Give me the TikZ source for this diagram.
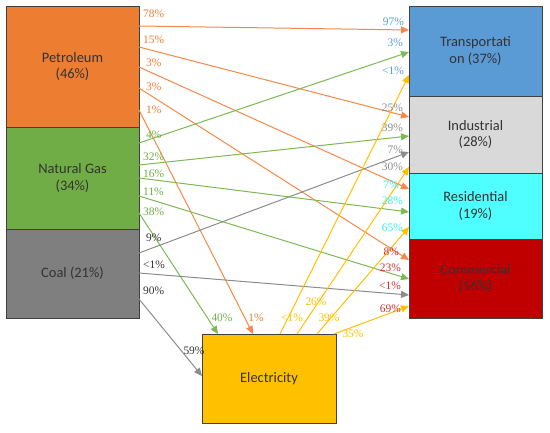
\documentclass[tikz,border=0pt]{standalone}
\usepackage{fontspec}
\setmainfont{Carlito}
\newfontfamily\pctfont{Liberation Serif}
\usetikzlibrary{arrows.meta}
\definecolor{cPet}{HTML}{ED7D31}
\definecolor{cGas}{HTML}{70AD47}
\definecolor{cCoal}{HTML}{7F7F7F}
\definecolor{cTra}{HTML}{5B9BD5}
\definecolor{cInd}{HTML}{D9D9D9}
\definecolor{cRes}{HTML}{4FFFFF}
\definecolor{cCom}{HTML}{C00000}
\definecolor{cEle}{HTML}{FFC000}
\definecolor{lPet}{HTML}{F4894A}
\definecolor{lGas}{HTML}{7DB955}
\definecolor{lCoal}{HTML}{8C8C8C}
\definecolor{lEle}{HTML}{FFC000}
\definecolor{tTra}{HTML}{5B9BD5}
\definecolor{tInd}{HTML}{8C8C8C}
\definecolor{tRes}{HTML}{33F0F0}
\definecolor{tCom}{HTML}{D03030}
\definecolor{tCoal}{HTML}{333333}
\begin{document}
\begin{tikzpicture}[x=1bp,y=-1bp,
  box/.style={draw=black!75,line width=0.8bp,inner sep=0pt,align=center,font=\fontsize{14.5}{17}\selectfont,text=black!80},
  flow/.style={line width=1bp,-{Triangle[length=8bp,width=7bp]}},
  pct/.style={font=\pctfont\fontsize{11.5}{12}\selectfont,inner sep=0pt}]
\useasboundingbox (0,0) rectangle (550,432);
% sources
\node[box,fill=cPet,minimum width=133bp,minimum height=121bp] (pet) at (72.5,66.5) {Petroleum\\(46\%)};
\node[box,fill=cGas,minimum width=133bp,minimum height=102bp] (gas) at (72.5,178) {Natural Gas\\(34\%)};
\node[box,fill=cCoal,minimum width=133bp,minimum height=89bp] (coal) at (72.5,273.5) {Coal (21\%)};
% sinks
\node[box,fill=cTra,minimum width=133bp,minimum height=90bp] (tra) at (475.5,51) {Transportati\\on (37\%)};
\node[box,fill=cInd,minimum width=133bp,minimum height=77bp] (ind) at (475.5,134.5) {Industrial\\(28\%)};
\node[box,fill=cRes,minimum width=133bp,minimum height=66bp] (res) at (475.5,206) {Residential\\(19\%)};
\node[box,fill=cCom,minimum width=133bp,minimum height=79bp] (com) at (475.5,278.5) {Commercial\\(16\%)};
\node[box,fill=cEle,minimum width=134bp,minimum height=89bp] (ele) at (269,378.5) {Electricity};
% start points
\coordinate (p1) at (139,26); \coordinate (p2) at (139,47); \coordinate (p3) at (139,67);
\coordinate (p4) at (139,88); \coordinate (p5) at (139,110);
\coordinate (g1) at (139,143); \coordinate (g2) at (139,165); \coordinate (g3) at (139,178);
\coordinate (g4) at (139,196); \coordinate (g5) at (139,213);
\coordinate (c1) at (139,253); \coordinate (c2) at (139,273); \coordinate (c3) at (139,299);
\coordinate (e1) at (280,334); \coordinate (e2) at (297,334); \coordinate (e3) at (317,334); \coordinate (e4) at (334,334);
% end points
\coordinate (tp) at (409,30); \coordinate (tg) at (409,52); \coordinate (te) at (409,75);
\coordinate (ip) at (409,117); \coordinate (ig) at (409,136); \coordinate (ic) at (409,152); \coordinate (ie) at (409,167);
\coordinate (rp) at (409,189); \coordinate (rg) at (409,212); \coordinate (re) at (409,227);
\coordinate (mp) at (409,260); \coordinate (mg) at (409,279); \coordinate (mc) at (409,295); \coordinate (me) at (409,306);
\coordinate (ep) at (253,334); \coordinate (eg) at (218,334); \coordinate (ec) at (202,376);
% flows
\draw[flow,lPet] (p1) -- (tp);
\draw[flow,lPet] (p2) -- (ip);
\draw[flow,lPet] (p3) -- (rp);
\draw[flow,lPet] (p4) -- (mp);
\draw[flow,lPet] (p5) -- (ep);
\draw[flow,lGas] (g1) -- (tg);
\draw[flow,lGas] (g2) -- (ig);
\draw[flow,lGas] (g3) -- (rg);
\draw[flow,lGas] (g4) -- (mg);
\draw[flow,lGas] (g5) -- (eg);
\draw[flow,lCoal] (c1) -- (ic);
\draw[flow,lCoal] (c2) -- (mc);
\draw[flow,lCoal] (c3) -- (ec);
\draw[flow,lEle] (e1) -- (te);
\draw[flow,lEle] (e2) -- (ie);
\draw[flow,lEle] (e3) -- (re);
\draw[flow,lEle] (e4) -- (me);
% source labels
\node[pct,text=cPet,anchor=west] (l1) at (143,14) {78\%};
\node[pct,text=cPet,anchor=west] (l2) at (143,40) {15\%};
\node[pct,text=cPet,anchor=west] (l3) at (146,63) {3\%};
\node[pct,text=cPet,anchor=west] (l4) at (146,87) {3\%};
\node[pct,text=cPet,anchor=west] (l5) at (146,110) {1\%};
\node[pct,text=cGas,anchor=west] (l6) at (146,135) {4\%};
\node[pct,text=cGas,anchor=west] (l7) at (143,157) {32\%};
\node[pct,text=cGas,anchor=west] (l8) at (143,174) {16\%};
\node[pct,text=cGas,anchor=west] (l9) at (143,192) {11\%};
\node[pct,text=cGas,anchor=west] (l10) at (143,212) {38\%};
\node[pct,text=tCoal,anchor=west] (l11) at (146,238) {9\%};
\node[pct,text=tCoal,anchor=west] (l12) at (143,265) {<1\%};
\node[pct,text=tCoal,anchor=west] (l13) at (143,291) {90\%};
% target labels
\node[pct,text=tTra,anchor=east] (m1) at (404,22) {97\%};
\node[pct,text=tTra,anchor=east] (m2) at (403,43) {3\%};
\node[pct,text=tTra,anchor=east] (m3) at (404,71) {<1\%};
\node[pct,text=tInd,anchor=east] (m4) at (403,108) {25\%};
\node[pct,text=tInd,anchor=east] (m5) at (403,128) {39\%};
\node[pct,text=tInd,anchor=east] (m6) at (403,150) {7\%};
\node[pct,text=tInd,anchor=east] (m7) at (403,167) {30\%};
\node[pct,text=tRes,anchor=east] (m8) at (399,185) {7\%};
\node[pct,text=tRes,anchor=east] (m9) at (403,201) {28\%};
\node[pct,text=tRes,anchor=east] (m10) at (403,228) {65\%};
\node[pct,text=tCom,anchor=east] (m11) at (399,252) {8\%};
\node[pct,text=tCom,anchor=east] (m12) at (401,268) {23\%};
\node[pct,text=tCom,anchor=east] (m13) at (401,286) {<1\%};
\node[pct,text=tCom,anchor=east] (m14) at (401,309) {69\%};
% electricity labels
\node[pct,text=cGas] (n1) at (222,318) {40\%};
\node[pct,text=cPet] (n2) at (256,318) {1\%};
\node[pct,text=tCoal] (n3) at (194,351) {59\%};
\node[pct,text=cEle] (n4) at (292,318) {<1\%};
\node[pct,text=cEle] (n5) at (316,302) {26\%};
\node[pct,text=cEle] (n6) at (329,318) {39\%};
\node[pct,text=cEle] (n7) at (353,334) {35\%};
\end{tikzpicture}
\end{document}
